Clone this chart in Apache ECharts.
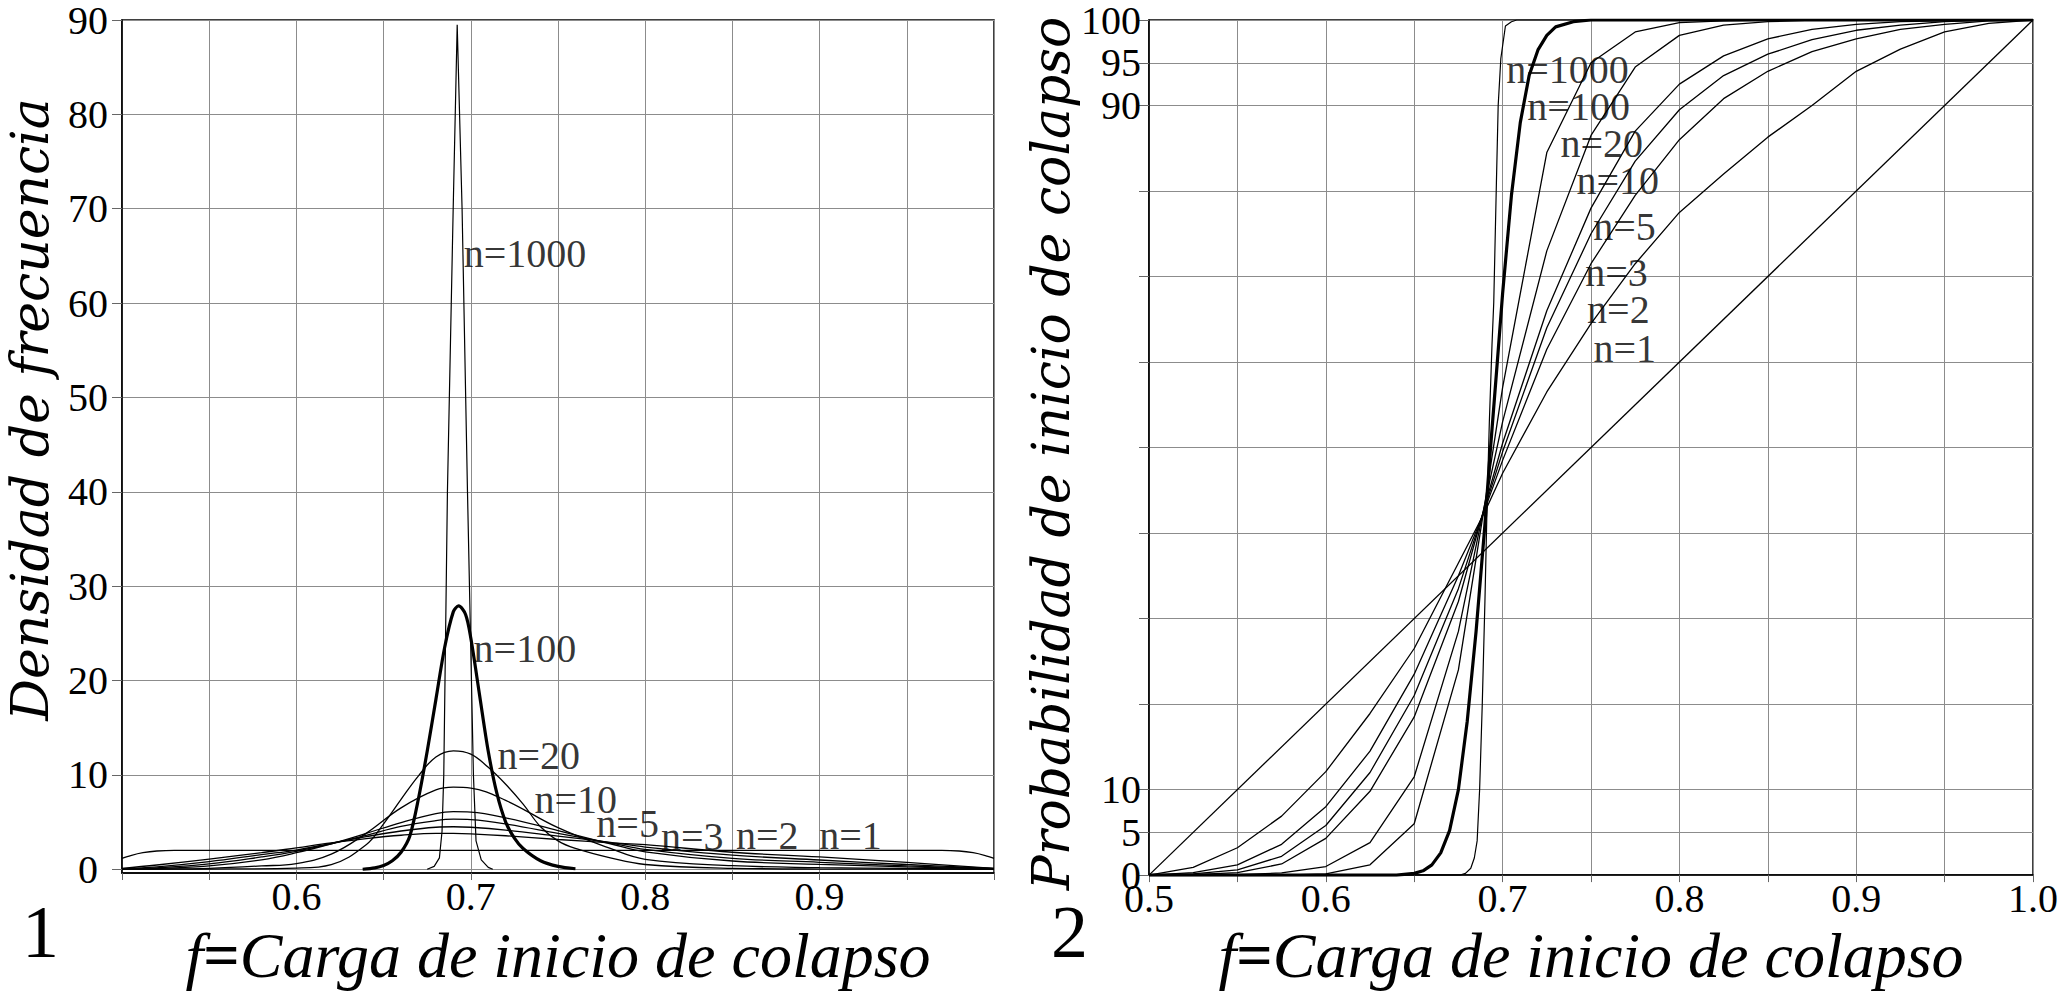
<!DOCTYPE html>
<html>
<head>
<meta charset="utf-8">
<title>Carga de inicio de colapso</title>
<script src="https://cdn.jsdelivr.net/npm/echarts@6/dist/echarts.min.js"></script>
<style>
    html, body { margin: 0; padding: 0; background: #fff; }
    #chart { width: 2066px; height: 992px; }
</style>
</head>
<body>
<div id="chart"></div>
<script>
// ejes
var fTicks = [0.5, 0.55, 0.6, 0.65, 0.7, 0.75, 0.8, 0.85, 0.9, 0.95, 1.0];
var fLabelsDens = [0.6, 0.7, 0.8, 0.9];
var fLabelsCdf = [0.5, 0.6, 0.7, 0.8, 0.9, 1.0];
var densTicks = [0, 10, 20, 30, 40, 50, 60, 70, 80, 90];
var cdfTicks = [0, 5, 10, 20, 30, 40, 50, 60, 70, 80, 90, 95, 100];
var cdfLabels = [0, 5, 10, 90, 95, 100];

// grafico 1: densidad de frecuencia
var fDens = [0.5, 0.52, 0.55, 0.58, 0.6, 0.62, 0.64, 0.66, 0.68, 0.69, 0.7, 0.72, 0.75, 0.78, 0.8, 0.85, 0.9, 0.95, 1.0];
var dens2 = [0.1, 0.45, 1.08, 1.75, 2.27, 2.8, 3.25, 3.6, 3.8, 3.8, 3.75, 3.55, 3.15, 2.8, 2.6, 1.8, 1.3, 0.72, 0.1];
var dens3 = [0.05, 0.25, 0.8, 1.55, 2.03, 2.75, 3.45, 4.05, 4.45, 4.5, 4.45, 4.15, 3.5, 2.85, 2.35, 1.5, 0.98, 0.5, 0.08];
var dens4 = [0.03, 0.15, 0.56, 1.3, 1.9, 2.7, 3.6, 4.55, 5.15, 5.3, 5.25, 4.8, 3.8, 2.8, 2.1, 1.15, 0.73, 0.35, 0.06];
var dens5 = [0.02, 0.08, 0.35, 1.0, 1.75, 2.7, 3.8, 4.95, 5.9, 6.1, 6.05, 5.45, 4.1, 2.7, 1.85, 0.87, 0.52, 0.25, 0.05];
var dens10 = [0, 0.02, 0.1, 0.35, 0.6, 1.6, 3.8, 6.5, 8.4, 8.7, 8.6, 7.3, 4.4, 2.2, 1.05, 0.38, 0.17, 0.08, 0.02];

var fDens1 = [0.5, 0.505, 0.512, 0.52, 0.53, 0.97, 0.98, 0.988, 0.995, 1.0];
var dens1 = [1.15, 1.45, 1.75, 1.93, 2.0, 2.0, 1.93, 1.75, 1.45, 1.15];

var fDens20 = [0.5, 0.55, 0.6, 0.62, 0.64, 0.65, 0.66, 0.67, 0.68, 0.69, 0.7, 0.71, 0.72, 0.73, 0.74, 0.75, 0.76, 0.78, 0.8, 0.85, 0.9, 1.0];
var dens20 = [0, 0.02, 0.12, 0.5, 2.6, 4.8, 7.4, 9.9, 11.9, 12.55, 12.2, 10.8, 9.0, 6.9, 4.5, 3.0, 2.2, 1.2, 0.5, 0.1, 0.02, 0];

var fDens100 = [0.638, 0.645, 0.65, 0.655, 0.66, 0.665, 0.67, 0.675, 0.68, 0.685, 0.69, 0.693, 0.697, 0.7, 0.705, 0.71, 0.715, 0.72, 0.725, 0.73, 0.74, 0.75, 0.76];
var dens100 = [0, 0.15, 0.4, 0.9, 1.8, 3.5, 7.5, 12.5, 18, 23.5, 27.3, 27.9, 27, 24.5, 18.5, 12.5, 8, 5, 3.3, 2.2, 0.9, 0.3, 0.05];

var fDens1000 = [0.675, 0.679, 0.682, 0.6835, 0.6845, 0.6866, 0.6899, 0.6922, 0.695, 0.6981, 0.7015, 0.703, 0.706, 0.71, 0.7126];
var dens1000 = [0, 0.3, 1.2, 4, 10, 40, 70, 89.5, 70, 40, 10, 3, 1, 0.2, 0];

var densLabels = ['n=1000', 'n=100', 'n=20', 'n=10', 'n=5', 'n=3', 'n=2', 'n=1'];
var densLabelX = [0.6959, 0.7016, 0.7153, 0.7365, 0.772, 0.809, 0.852, 0.8998];
var densLabelY = [65.3, 23.4, 12.1, 7.35, 4.83, 3.47, 3.55, 3.55];

// grafico 2: probabilidad acumulada (%)
var fCdf = [0.5, 0.525, 0.55, 0.575, 0.6, 0.625, 0.65, 0.675, 0.69, 0.7, 0.725, 0.75, 0.775, 0.8, 0.825, 0.85, 0.875, 0.9, 0.925, 0.95, 0.975, 1.0];
var cdf2 = [0, 0.9, 3.2, 6.9, 12.1, 18.9, 26.5, 36.5, 42.5, 47, 56.5, 64.5, 71.5, 77.5, 82, 86.3, 90, 94, 96.6, 98.6, 99.6, 100];
var cdf3 = [0, 0.3, 1.2, 3.6, 8.0, 14.5, 23.5, 35, 42.8, 48.5, 61.5, 71.5, 79.5, 86, 90.8, 94, 96.3, 97.8, 98.9, 99.5, 99.9, 100];
var cdf4 = [0, 0.15, 0.6, 2.2, 5.8, 12, 21, 33.5, 43, 49.5, 64, 75, 83.5, 89.5, 93.5, 96, 97.7, 98.8, 99.4, 99.8, 100, 100];
var cdf5 = [0, 0.05, 0.3, 1.3, 4.3, 9.8, 18.5, 32, 43.2, 50.5, 66, 78, 87, 92.5, 95.8, 97.8, 98.9, 99.5, 99.8, 99.9, 100, 100];
var cdf10 = [0, 0, 0.05, 0.25, 1.0, 3.8, 11.5, 28.5, 43.5, 53, 73, 86.5, 94.5, 98.2, 99.4, 99.8, 100, 100, 100, 100, 100, 100];
var cdf20 = [0, 0, 0, 0, 0.15, 1.2, 6, 24, 43.5, 57, 84.5, 95, 98.6, 99.7, 99.9, 100, 100, 100, 100, 100, 100, 100];

var fCdf1 = [0.5, 1.0];
var cdf1 = [0, 100];

var fCdf100 = [0.5, 0.64, 0.65, 0.655, 0.66, 0.665, 0.67, 0.675, 0.68, 0.685, 0.69, 0.693, 0.697, 0.7, 0.705, 0.71, 0.715, 0.72, 0.725, 0.73, 0.74, 0.75, 1.0];
var cdf100 = [0, 0, 0.2, 0.5, 1.2, 2.6, 5.2, 10, 18, 28.5, 41, 49.5, 60, 68, 79.5, 88, 93.5, 96.5, 98.2, 99.2, 99.8, 100, 100];

var fCdf1000 = [0.5, 0.676, 0.679, 0.682, 0.684, 0.6856, 0.687, 0.6885, 0.69, 0.6913, 0.6925, 0.694, 0.695, 0.6965, 0.6975, 0.699, 0.7016, 0.705, 0.708, 1.0];
var cdf1000 = [0, 0, 0.2, 0.8, 2, 4, 10, 20, 32, 44, 53, 62, 67, 81, 90, 95.5, 99.3, 99.8, 100, 100];

var cdfLabels_n = ['n=1000', 'n=100', 'n=20', 'n=10', 'n=5', 'n=3', 'n=2', 'n=1'];
var cdfLabelX = [0.702, 0.714, 0.7327, 0.7418, 0.7513, 0.7467, 0.7478, 0.7514];
var cdfLabelY = [94.2, 89.9, 85.6, 81.2, 75.9, 70.5, 66.1, 61.6];

var serif = '"Liberation Serif", serif';
var wideSerif = '"DejaVu Serif", serif';
var gridColor = '#8c8c8c';

function pairs(xs, ys) {
    return xs.map(function (x, i) { return [x, ys[i]]; });
}

function curve(idx, xs, ys, width, smooth) {
    return {
        type: 'line',
        xAxisIndex: idx,
        yAxisIndex: idx,
        data: pairs(xs, ys),
        symbol: 'none',
        smooth: smooth,
        lineStyle: { color: '#000', width: width },
        silent: true,
        z: 3
    };
}

function labels(idx, names, xs, ys) {
    return {
        type: 'scatter',
        xAxisIndex: idx,
        yAxisIndex: idx,
        symbolSize: 0,
        silent: true,
        z: 5,
        data: names.map(function (n, i) { return { name: n, value: [xs[i], ys[i]] }; }),
        label: {
            show: true,
            position: 'right',
            distance: 0,
            formatter: '{b}',
            fontFamily: serif,
            fontSize: 40,
            color: '#000'
        }
    };
}

function xAxisCfg(idx, labelVals, gap) {
    return {
        type: 'value',
        gridIndex: idx,
        min: 0.5,
        max: 1.0,
        axisLine: { show: true, onZero: false, lineStyle: { color: '#000', width: 1.5 } },
        axisTick: { show: true, length: 7, customValues: fTicks, lineStyle: { color: '#666' } },
        axisLabel: {
            customValues: labelVals,
            formatter: function (v) { return v.toFixed(1); },
            margin: 3,
            fontFamily: serif,
            fontSize: 40,
            color: '#000'
        },
        splitLine: { show: true, lineStyle: { color: gridColor, width: 1 } },
        name: '{i|f}{b|=}{i|Carga de inicio de colapso}',
        nameLocation: 'middle',
        nameGap: gap,
        nameTextStyle: {
            rich: {
                i: { fontFamily: serif, fontStyle: 'italic', fontSize: 64, color: '#000' },
                b: { fontFamily: serif, fontWeight: 'bold', fontSize: 64, color: '#000' }
            }
        }
    };
}

// svg: el texto lo pinta el navegador con la fuente pedida
var chart = echarts.init(document.getElementById('chart'), null, { renderer: 'svg' });

chart.setOption({
    animation: false,
    backgroundColor: '#fff',
    textStyle: { fontFamily: serif },
    grid: [
        { left: 122, right: 1072, top: 18, bottom: 113, show: true, borderColor: '#000', borderWidth: 1.5 },
        { left: 1149, right: 33, top: 17, bottom: 111, show: true, borderColor: '#000', borderWidth: 1.5 }
    ],
    xAxis: [
        xAxisCfg(0, fLabelsDens, 50),
        xAxisCfg(1, fLabelsCdf, 44)
    ],
    yAxis: [
        {
            type: 'value',
            gridIndex: 0,
            min: -0.4,
            max: 90,
            axisLine: { show: true, lineStyle: { color: '#000', width: 1.5 } },
            axisTick: { show: true, length: 10, customValues: densTicks, lineStyle: { color: '#666' } },
            axisLabel: {
                customValues: densTicks,
                align: 'center',
                margin: 34,
                fontFamily: serif,
                fontSize: 40,
                color: '#000'
            },
            splitLine: { show: true, lineStyle: { color: gridColor, width: 1 } },
            name: 'Densidad de frecuencia',
            nameLocation: 'middle',
            nameGap: 66,
            nameTextStyle: { fontFamily: wideSerif, fontStyle: 'italic', fontSize: 52, color: '#000', padding: [0, 0, 0, 74] }
        },
        {
            type: 'value',
            gridIndex: 1,
            min: 0,
            max: 100,
            axisLine: { show: true, lineStyle: { color: '#000', width: 1.5 } },
            axisTick: { show: true, length: 10, customValues: cdfTicks, lineStyle: { color: '#666' } },
            axisLabel: {
                customValues: cdfLabels,
                margin: 8,
                fontFamily: serif,
                fontSize: 40,
                color: '#000'
            },
            splitLine: { show: true, lineStyle: { color: gridColor, width: 1 } },
            name: 'Probabilidad de inicio de colapso',
            nameLocation: 'middle',
            nameGap: 64,
            nameTextStyle: { fontFamily: wideSerif, fontStyle: 'italic', fontSize: 52, color: '#000', padding: [0, 12, 0, 0] }
        }
    ],
    graphic: [
        { type: 'text', left: 22, top: 895, style: { text: '1', font: '74px "Liberation Serif"', fill: '#000' } },
        { type: 'text', left: 1051, top: 895, style: { text: '2', font: '74px "Liberation Serif"', fill: '#000' } }
    ],
    series: [
        curve(0, fDens1, dens1, 1.3, 0.3),
        curve(0, fDens, dens2, 1.3, 0.4),
        curve(0, fDens, dens3, 1.3, 0.4),
        curve(0, fDens, dens4, 1.3, 0.4),
        curve(0, fDens, dens5, 1.3, 0.4),
        curve(0, fDens, dens10, 1.3, 0.4),
        curve(0, fDens20, dens20, 1.3, 0.4),
        curve(0, fDens100, dens100, 3.2, 0.3),
        curve(0, fDens1000, dens1000, 1.2, false),
        labels(0, densLabels, densLabelX, densLabelY),

        curve(1, fCdf1, cdf1, 1.3, false),
        curve(1, fCdf, cdf2, 1.3, false),
        curve(1, fCdf, cdf3, 1.3, false),
        curve(1, fCdf, cdf4, 1.3, false),
        curve(1, fCdf, cdf5, 1.3, false),
        curve(1, fCdf, cdf10, 1.3, false),
        curve(1, fCdf, cdf20, 1.3, false),
        curve(1, fCdf100, cdf100, 3.2, false),
        curve(1, fCdf1000, cdf1000, 1.2, false),
        labels(1, cdfLabels_n, cdfLabelX, cdfLabelY)
    ]
});
</script>
</body>
</html>
